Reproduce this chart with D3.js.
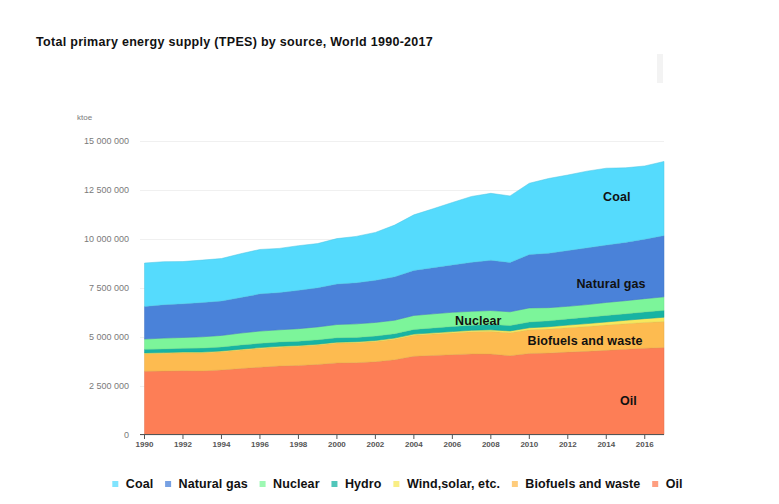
<!DOCTYPE html>
<html>
<head>
<meta charset="utf-8">
<style>
body { margin: 0; background: #fff; }
text { font-family: "Liberation Sans", Arial, sans-serif; }
.ttl { font-size: 12.5px; font-weight: bold; fill: #111; letter-spacing: 0.3px; }
.lbl { font-size: 12.5px; font-weight: bold; fill: #111; letter-spacing: 0.1px; }
.ytick { font-size: 9px; fill: #7a7a7a; }
.xtick { font-size: 8px; font-weight: bold; fill: #555; }
</style>
<script src="https://cdn.jsdelivr.net/npm/d3@7"></script>
</head>
<body>
<div id="chart"></div>
<script>
// ktoe
var years = [1990, 1991, 1992, 1993, 1994, 1995, 1996, 1997, 1998, 1999,
             2000, 2001, 2002, 2003, 2004, 2005, 2006, 2007, 2008, 2009,
             2010, 2011, 2012, 2013, 2014, 2015, 2016, 2017];
var coal    = [2220000, 2200000, 2160000, 2170000, 2170000, 2240000, 2270000, 2260000, 2280000, 2260000,
               2320000, 2370000, 2450000, 2640000, 2840000, 3010000, 3190000, 3370000, 3420000, 3400000,
               3640000, 3820000, 3860000, 3920000, 3930000, 3810000, 3740000, 3790000];
var gas     = [1663000, 1705000, 1720000, 1750000, 1760000, 1815000, 1900000, 1900000, 1960000, 2000000,
               2070000, 2100000, 2150000, 2220000, 2300000, 2360000, 2420000, 2500000, 2570000, 2520000,
               2730000, 2780000, 2850000, 2900000, 2930000, 2980000, 3040000, 3130000];
var nuclear = [526000, 551000, 554000, 577000, 587000, 608000, 627000, 621000, 637000, 658000,
               676000, 692000, 697000, 688000, 714000, 722000, 728000, 709000, 712000, 703000,
               719000, 674000, 642000, 646000, 662000, 670000, 679000, 688000];
var hydro   = [184000, 190000, 191000, 204000, 205000, 214000, 217000, 221000, 222000, 224000,
               225000, 220000, 225000, 225000, 240000, 250000, 259000, 262000, 275000, 278000,
               296000, 301000, 317000, 326000, 335000, 333000, 345000, 353000];
var wind    = [37000, 38000, 39000, 40000, 41000, 42000, 43000, 44000, 45000, 47000,
               50000, 52000, 55000, 58000, 61000, 65000, 70000, 76000, 83000, 92000,
               105000, 118000, 132000, 147000, 162000, 176000, 195000, 223000];
var biofuel = [900000, 908000, 915000, 922000, 930000, 950000, 960000, 965000, 975000, 990000,
               1010000, 1020000, 1030000, 1050000, 1070000, 1090000, 1110000, 1130000, 1155000, 1170000,
               1210000, 1230000, 1250000, 1270000, 1290000, 1300000, 1315000, 1330000];
var oil     = [3232000, 3240000, 3260000, 3250000, 3300000, 3370000, 3440000, 3500000, 3530000, 3580000,
               3660000, 3670000, 3720000, 3820000, 4000000, 4040000, 4080000, 4120000, 4110000, 4030000,
               4140000, 4160000, 4210000, 4250000, 4300000, 4360000, 4410000, 4440000];

var seriesNames = ["Coal", "Natural gas", "Nuclear", "Hydro", "Wind,solar, etc.", "Biofuels and waste", "Oil"];
var seriesValues = [coal, gas, nuclear, hydro, wind, biofuel, oil];
var colors = ["#55dbfd", "#4a82d9", "#7cf59a", "#17b3a3", "#f7e85c", "#fdbb50", "#fd7e56"];
var yTicks = [0, 2500000, 5000000, 7500000, 10000000, 12500000, 15000000];
var xTicks = [1990, 1992, 1994, 1996, 1998, 2000, 2002, 2004, 2006, 2008, 2010, 2012, 2014, 2016];
// in-chart labels, anchored in data units (year, ktoe)
var areaLabels = [
  {name: "Coal", year: 2014.55, value: 12150000},
  {name: "Natural gas", year: 2014.25, value: 7730000},
  {name: "Nuclear", year: 2007.35, value: 5850000},
  {name: "Biofuels and waste", year: 2012.9, value: 4790000},
  {name: "Oil", year: 2015.15, value: 1760000}
];

var W = 779, H = 504;
var svg = d3.select("#chart").append("svg")
    .attr("width", W).attr("height", H);

var x = d3.scaleLinear().domain([1990, 2017]).range([144.5, 664]);
var y = d3.scaleLinear().domain([0, 15000000]).range([434.5, 141]);
var fmt = d3.formatLocale({decimal: ".", thousands: " ", grouping: [3], currency: ["", ""]}).format(",d");

// table for stacking
var table = years.map(function(yr, i) {
    var row = {year: yr};
    seriesNames.forEach(function(n, k) { row[n] = seriesValues[k][i]; });
    return row;
});
var stackOrder = seriesNames.slice().reverse(); // oil at bottom
var stacked = d3.stack().keys(stackOrder)(table);
var colorOf = function(n) { return colors[seriesNames.indexOf(n)]; };

svg.append("text").attr("class", "ttl").attr("x", 36).attr("y", 45.5)
    .text("Total primary energy supply (TPES) by source, World 1990-2017");

// faint strip top right
svg.append("rect").attr("x", 657).attr("y", 54).attr("width", 6).attr("height", 29)
    .attr("fill", "#f3f3f3");

// grid
svg.append("g").selectAll("line").data(yTicks).enter().append("line")
    .attr("x1", 140).attr("x2", 664)
    .attr("y1", function(d) { return Math.round(y(d)) + 0.5; })
    .attr("y2", function(d) { return Math.round(y(d)) + 0.5; })
    .attr("stroke", "#f0f0f0");

svg.append("g").selectAll("text").data(yTicks).enter().append("text")
    .attr("class", "ytick")
    .attr("x", 129).attr("y", function(d) { return y(d) + 3; })
    .attr("text-anchor", "end")
    .text(function(d) { return fmt(d); });

svg.append("text").attr("class", "ytick").attr("x", 77).attr("y", 119.5)
    .style("font-size", "8px").text("ktoe");

var area = d3.area()
    .x(function(d) { return x(d.data.year); })
    .y0(function(d) { return y(d[0]); })
    .y1(function(d) { return y(d[1]); });

svg.append("g").selectAll("path").data(stacked).enter().append("path")
    .attr("d", area)
    .attr("fill", function(s) { return colorOf(s.key); })
    .attr("stroke", function(s) { return d3.color(colorOf(s.key)).darker(0.3); })
    .attr("stroke-width", 0.5);

// grey edge on the top of the stack
var top = stacked[stacked.length - 1];
svg.append("path")
    .attr("d", d3.line().x(function(d) { return x(d.data.year); })
                        .y(function(d) { return y(d[1]); })(top))
    .attr("fill", "none").attr("stroke", "#8aa0a8").attr("stroke-width", 1);

// x axis
svg.append("line").attr("x1", 140).attr("x2", 664).attr("y1", 434.5).attr("y2", 434.5)
    .attr("stroke", "#555").attr("stroke-width", 1.2);
svg.append("g").selectAll("line").data(xTicks).enter().append("line")
    .attr("x1", function(d) { return x(d); }).attr("x2", function(d) { return x(d); })
    .attr("y1", 434.5).attr("y2", 439)
    .attr("stroke", "#555");
svg.append("g").selectAll("text").data(xTicks).enter().append("text")
    .attr("class", "xtick")
    .attr("x", function(d) { return x(d); }).attr("y", 447)
    .attr("text-anchor", "middle")
    .text(function(d) { return d; });

// labels in the areas
svg.append("g").selectAll("text").data(areaLabels).enter().append("text")
    .attr("class", "lbl")
    .attr("x", function(d) { return x(d.year); })
    .attr("y", function(d) { return y(d.value) + 4.5; })
    .attr("text-anchor", "middle")
    .text(function(d) { return d.name; });

// legend
var leg = svg.append("g");
var cursor = 115.3;
seriesNames.forEach(function(n, k) {
    leg.append("rect").attr("x", cursor - 3).attr("y", 481).attr("width", 6).attr("height", 6)
        .attr("fill", colors[k]).attr("opacity", 0.75);
    var t = leg.append("text").attr("class", "lbl")
        .attr("x", cursor + 10.5).attr("y", 488)
        .text(n);
    cursor = cursor + 10.5 + t.node().getComputedTextLength() + 14.8;
});
</script>
</body>
</html>
